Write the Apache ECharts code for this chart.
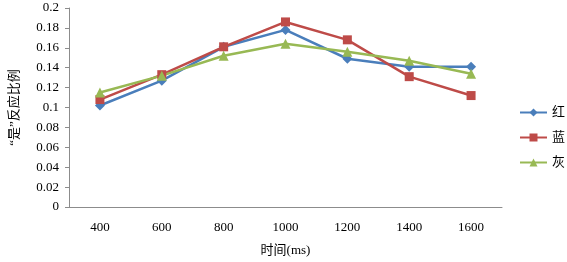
<!DOCTYPE html>
<html>
<head>
<meta charset="utf-8">
<script src="https://cdn.jsdelivr.net/npm/echarts@6/dist/echarts.min.js"></script>
<style>
  html, body { margin: 0; padding: 0; background: #fff; }
  #chart { width: 567px; height: 262px; }
</style>
</head>
<body>
<div id="chart"></div>
<script>
// 横轴：时间
const categories = ['400', '600', '800', '1000', '1200', '1400', '1600'];
// 三组“是”反应比例
const red = [0.102, 0.127, 0.161, 0.178, 0.149, 0.141, 0.141];
const blue = [0.108, 0.133, 0.161, 0.186, 0.168, 0.131, 0.112];
const gray = [0.115, 0.132, 0.152, 0.164, 0.156, 0.147, 0.134];

const serif = '"Liberation Serif", "Noto Sans CJK SC", serif';
const axisColor = '#8c8c8c';

const chart = echarts.init(document.getElementById('chart'));

chart.setOption({
  animation: false,
  grid: { left: 64, top: 8, right: 65, bottom: 55 },
  legend: {
    orient: 'vertical',
    left: 519,
    top: 106,
    padding: 0,
    itemWidth: 27,
    itemHeight: 10,
    itemGap: 12,
    textStyle: { fontFamily: serif, fontSize: 13, color: '#000' },
    data: ['红', '蓝', '灰'],
  },
  xAxis: {
    type: 'category',
    data: categories,
    name: '时间(ms)',
    nameLocation: 'middle',
    nameGap: 37,
    nameTextStyle: { fontFamily: serif, fontSize: 13, color: '#000' },
    axisLine: { lineStyle: { color: axisColor } },
    axisTick: { show: false },
    axisLabel: { fontFamily: serif, fontSize: 13, color: '#000', margin: 14 },
  },
  yAxis: {
    type: 'value',
    min: 0,
    max: 0.2,
    interval: 0.02,
    name: '“是”反应比例',
    nameLocation: 'middle',
    nameGap: 48,
    nameTextStyle: { fontFamily: serif, fontSize: 13, color: '#000' },
    axisLine: { show: true, lineStyle: { color: axisColor } },
    axisTick: { show: true, length: 4, lineStyle: { color: axisColor } },
    splitLine: { show: false },
    axisLabel: {
      fontFamily: serif,
      fontSize: 13,
      color: '#000',
      margin: 10,
      formatter: (v) => String(Math.round(v * 100) / 100),
    },
  },
  series: [
    {
      name: '红',
      type: 'line',
      data: red,
      symbol: 'diamond',
      symbolSize: 10,
      color: '#4a7ebb',
      lineStyle: { width: 2.5 },
    },
    {
      name: '蓝',
      type: 'line',
      data: blue,
      symbol: 'rect',
      symbolSize: 9,
      color: '#be4b48',
      lineStyle: { width: 2.5 },
    },
    {
      name: '灰',
      type: 'line',
      data: gray,
      symbol: 'triangle',
      symbolSize: 10,
      color: '#98b954',
      lineStyle: { width: 2.5 },
    },
  ],
});
</script>
</body>
</html>
